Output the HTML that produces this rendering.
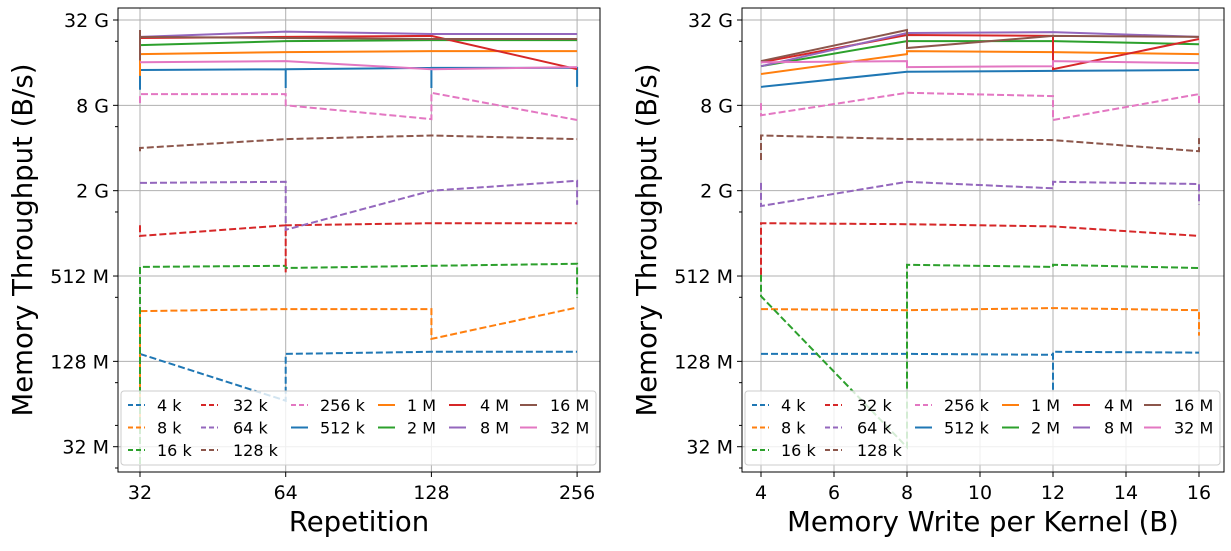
<!DOCTYPE html>
<html><head><meta charset="utf-8"><style>
body{margin:0;background:#fff;font-family:"Liberation Sans","DejaVu Sans",sans-serif}
svg text{font-family:"DejaVu Sans","Liberation Sans",sans-serif}
</style></head><body>
<svg id="c" width="1231" height="546" xmlns="http://www.w3.org/2000/svg"></svg>
<script>
// values in GiB/s
const seriesNames=["4 k","8 k","16 k","32 k","64 k","128 k","256 k","512 k","1 M","2 M","4 M","8 M","16 M","32 M"];
const colors=["#1f77b4","#ff7f0e","#2ca02c","#d62728","#9467bd","#8c564b","#e377c2","#1f77b4","#ff7f0e","#2ca02c","#d62728","#9467bd","#8c564b","#e377c2"];
const yTicks=[0.03125,0.125,0.5,2,8,32];
const yTickLabels=["32 M","128 M","512 M","2 G","8 G","32 G"];
const leftXTicks=[32,64,128,256];
const rightXTicks=[4,6,8,10,12,14,16];
const leftX=[[32,64,64,128,256],[32,32,64,128,128,256],[32,32,64,64,128,256,256],[32,32,64,64,64,128,256],[32,64,64,128,256,256],[32,32,64,128,256],[32,32,64,64,128,128,256],[32,32,64,64,64,128,128,128,256,256],[32,32,64,128,256],[32,64,128,256],[32,64,128,256],[32,64,128,256],[32,32,32,64,128,256],[32,64,128,256]];
const leftY=[[0.141,0.066,0.141,0.146,0.146],[0.0405,0.283,0.292,0.292,0.18,0.30],[0.0236,0.58,0.59,0.57,0.59,0.61,0.35],[1.14,0.96,1.14,0.53,1.14,1.18,1.18],[2.27,2.31,1.06,2.0,2.35,1.59],[3.8,4.0,4.62,4.9,4.62],[8.3,9.6,9.6,8.0,6.4,9.8,6.3],[10.3,14.2,14.4,10.6,14.4,14.7,10.6,14.7,14.7,10.8],[12.9,18.4,19.0,19.3,19.3],[21.3,22.7,23.1,23.1],[23.9,24.3,24.7,14.4],[24.3,26.5,25.5,25.5],[27.2,16.6,24.3,23.9,23.5,23.5],[16.1,16.4,14.4,14.9]];
const rightX=[[4,8,12,12,12,16],[4,8,12,16,16],[4,4,8,8,12,12,16],[4,4,8,12,16],[4,4,8,12,12,16,16],[4,4,8,12,16,16],[4,4,8,12,12,16,16],[4,8,12,16],[4,8,8,12,16],[4,8,12,16],[4,8,12,12,16],[4,8,12,16],[4,8,8,12,16],[4,8,8,12,12,16]];
const rightY=[[0.141,0.141,0.139,0.077,0.146,0.144],[0.292,0.287,0.297,0.287,0.19],[0.51,0.36,0.031,0.60,0.58,0.60,0.57],[0.51,1.18,1.16,1.12,0.96],[2.27,1.56,2.31,2.08,2.31,2.23,1.59],[3.29,4.9,4.62,4.55,3.8,4.7],[8.3,6.8,9.8,9.3,6.3,9.6,8.0],[10.8,13.8,14.0,14.2],[13.3,18.4,19.3,19.0,18.4],[15.1,22.7,22.7,21.6],[16.1,25.1,24.7,14.4,23.5],[15.1,25.9,26.3,24.3],[16.4,27.2,20.3,24.7,24.3],[16.1,16.4,14.9,15.1,16.4,15.9]];
const NS="http://www.w3.org/2000/svg";
const svg=document.getElementById('c');
function mk(t,a,p){const e=document.createElementNS(NS,t);for(const k in a)e.setAttribute(k,a[k]);(p||svg).appendChild(e);return e;}
const Y0=20,PXD=42.67;
function yS(v){return Y0-(Math.log2(v)-5)*PXD;}
function drawPanel(pi,ox,xS,xTicks,xTickLabels,xLabel,xs,ys){
  const g=mk('g',{});
  
  
  const L=ox,R=ox+482,T=8,B=472;
  xTicks.forEach((t,i)=>{const x=xS(t);
    const gl=mk('line',{x1:x,x2:x,y1:T,y2:B,stroke:'#b0b0b0','stroke-width':1},g);
    
    mk('line',{x1:x,x2:x,y1:B,y2:B+5,stroke:'#000','stroke-width':1},g);
    const tx=mk('text',{x:x,y:B+27,'font-size':19,'text-anchor':'middle'},g);tx.textContent=xTickLabels[i];
    
  });
  yTicks.forEach((t,i)=>{const y=yS(t);
    const gl=mk('line',{x1:L,x2:R,y1:y,y2:y,stroke:'#b0b0b0','stroke-width':1},g);
    
    mk('line',{x1:L-5,x2:L,y1:y,y2:y,stroke:'#000'},g);
    mk('line',{x1:L-3,x2:L,y1:y+21.3,y2:y+21.3,stroke:'#000'},g);
    const tx=mk('text',{x:L-9,y:y+7,'font-size':19,'text-anchor':'end'},g);tx.textContent=yTickLabels[i];
    
  });
  mk('line',{x1:L-3,x2:L,y1:yS(0.03125)-21.3,y2:yS(0.03125)-21.3,stroke:'#000'},g);
  const cp=mk('clipPath',{id:'cp'+pi},g);mk('rect',{x:L,y:T,width:R-L,height:B-T},cp);
  const sg=mk('g',{'clip-path':'url(#cp'+pi+')'},g);
  seriesNames.forEach((n,s)=>{
    const pts=xs[s].map((x,k)=>xS(x).toFixed(1)+','+yS(ys[s][k]).toFixed(1)).join(' ');
    const pl=mk('polyline',{points:pts,fill:'none',stroke:colors[s],'stroke-width':2,'stroke-dasharray':s<7?'7,3':'none'},sg);
    
    
  });
  mk('rect',{x:L,y:T,width:R-L,height:B-T,fill:'none',stroke:'#000','stroke-width':1},g);
  const xl=mk('text',{x:(L+R)/2,y:531,'font-size':27.5,'text-anchor':'middle'},g);xl.textContent=xLabel;
  
  const yl=mk('text',{x:0,y:0,'font-size':27.5,'text-anchor':'middle',transform:`translate(${ox-86},${(T+B)/2}) rotate(-90)`},g);yl.textContent='Memory Throughput (B/s)';
  
  const lg=mk('g',{},g);
  
  mk('rect',{x:L+3,y:391,width:475,height:74,rx:3,fill:'#fff','fill-opacity':0.8,stroke:'#ccc'},lg);
  const colX=[10,83,173,260,331,402],colT=[39,115,202,289,362,432];
  seriesNames.forEach((n,s)=>{
    let c,r; if(s<6){c=Math.floor(s/3);r=s%3;}else{c=2+Math.floor((s-6)/2);r=(s-6)%2;}
    const y=405+r*22.5;
    mk('line',{x1:L+colX[c],x2:L+colX[c]+17,y1:y,y2:y,stroke:colors[s],'stroke-width':2,'stroke-dasharray':s<7?'5,3':'none'},lg);
    const t=mk('text',{x:L+colT[c],y:y+6,'font-size':16},lg);t.textContent=n;
    
  });
}
drawPanel(0,118,v=>140+(Math.log2(v)-5)*145.7,leftXTicks,leftXTicks.map(String),'Repetition',leftX,leftY);
drawPanel(1,742,v=>761+(v-4)*36.5,rightXTicks,rightXTicks.map(String),'Memory Write per Kernel (B)',rightX,rightY);
</script>
</body></html>
